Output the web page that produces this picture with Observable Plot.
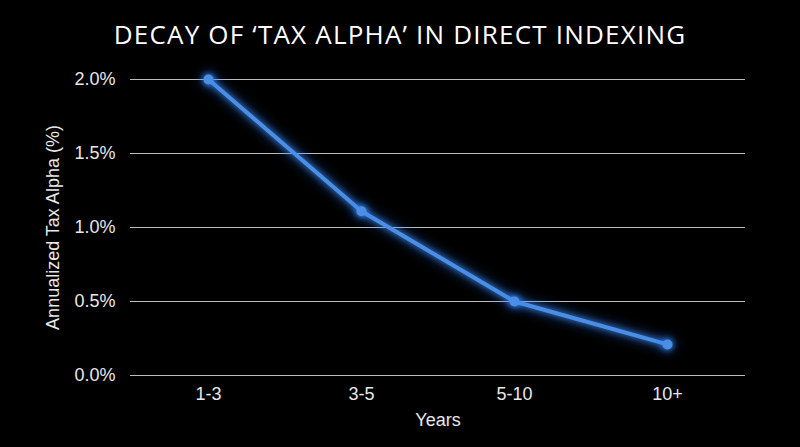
<!DOCTYPE html>
<html><head><meta charset="utf-8">
<script src="https://cdn.jsdelivr.net/npm/d3@7"></script>
<script src="https://cdn.jsdelivr.net/npm/@observablehq/plot@0.6"></script>
<style>
html,body{margin:0;padding:0;background:#000;}
#title{height:60px;line-height:60px;padding-top:4px;box-sizing:border-box;text-align:center;color:#fff;font-family:"Open Sans",sans-serif;font-size:26px;font-weight:400;letter-spacing:1.2px;}
.glow{filter:drop-shadow(0 0 3px rgba(70,150,255,0.9)) drop-shadow(0 0 6px rgba(40,120,255,0.6));}
</style></head>
<body>
<div id="title">DECAY OF ‘TAX ALPHA’ IN DIRECT INDEXING</div>
<div id="chart"></div>
<script>
const periods = ["1-3", "3-5", "5-10", "10+"];
const taxAlpha = [2.0, 1.11, 0.5, 0.21];
const yTicks = [0, 0.5, 1.0, 1.5, 2.0];
const xLabel = "Years";
const yLabel = "Annualized Tax Alpha (%)";

const data = periods.map((p, i) => ({period: p, value: taxAlpha[i]}));

const chart = Plot.plot({
  width: 800,
  height: 387,
  marginLeft: 130,
  marginRight: 55,
  marginTop: 19,
  marginBottom: 72,
  style: {background: "#000", color: "#fff", fontFamily: "'Liberation Sans', Arial, sans-serif"},
  x: {type: "point", domain: periods, padding: 0.5},
  y: {domain: [0, 2.0]},
  marks: [
    Plot.ruleY(yTicks, {stroke: "#bdbdbd", strokeWidth: 1.2}),
    Plot.axisX({tickSize: 0, tickPadding: 12, label: xLabel, labelAnchor: "center", labelOffset: 50, labelArrow: "none"}),
    Plot.axisY(yTicks, {tickSize: 0, tickPadding: 15, tickFormat: d => d.toFixed(1) + "%", label: yLabel, labelAnchor: "center", labelOffset: 84, labelArrow: "none"}),
    Plot.line(data, {x: "period", y: "value", stroke: "#4a8ee6", strokeWidth: 4, className: "glow"}),
    Plot.dot(data, {x: "period", y: "value", r: 5, fill: "#4a8ee6", className: "glow"})
  ]
});
chart.querySelectorAll("text").forEach(t => {
  t.style.fontSize = "18px";
  t.style.fill = "#e8e8e8";
});
document.getElementById("chart").appendChild(chart);
</script>
</body></html>
